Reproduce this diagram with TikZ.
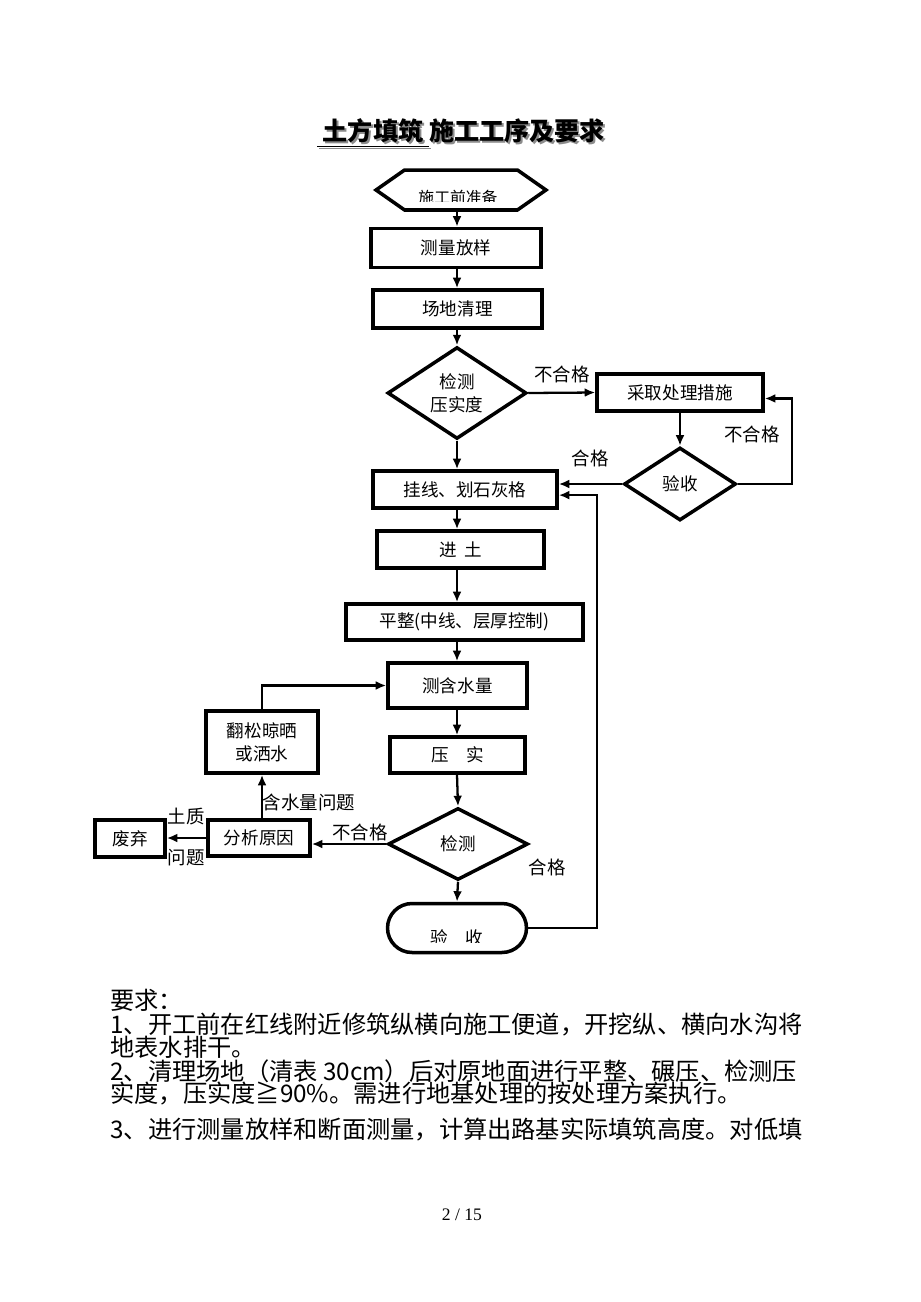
\documentclass[tikz,border=0pt]{standalone}
\usepackage{fontspec}
\setmainfont{Noto Sans CJK SC}
\newfontfamily\pagefont{Liberation Serif}
\usetikzlibrary{shapes.geometric,shapes.symbols,arrows.meta}

\tikzstyle{proc}=[rectangle, draw=black, line width=2pt, inner sep=0pt, font=\fontsize{10}{13}\selectfont, align=center]
\tikzstyle{dec}=[diamond, draw=black, line width=2pt, inner sep=0pt, font=\fontsize{10}{13}\selectfont, align=center]
\tikzstyle{lbl}=[inner sep=0pt, font=\fontsize{10.5}{12}\selectfont]
\tikzstyle{para}=[anchor=west, inner sep=0pt, font=\fontsize{13.8}{16}\selectfont]

\begin{document}
\begin{tikzpicture}[x=0.02cm, y=-0.02cm, >={Latex[length=6pt,width=5pt]},
    flow/.style = {->, line width=1.3pt}]
    \useasboundingbox (0,0) rectangle (920,1302);

    % title with its grey shadow
    \node[inner sep=0pt, font=\fontsize{14.3}{15}\selectfont\bfseries, text=black!45] (titleshadow) at (463,135) {\underline{\ 土方填筑\ }施工工序及要求};
    \node[inner sep=0pt, font=\fontsize{14.3}{15}\selectfont\bfseries] (title) at (461,133) {\underline{\ 土方填筑\ }施工工序及要求};

    \coordinate (spine) at (457,0);
    \coordinate (loopR) at (792,0);
    \coordinate (retR) at (597,0);

    % main column
    \node[signal, signal to=west and east, signal pointer angle=70, draw=black, line width=2pt, minimum width=3.4cm, minimum height=0.8cm, inner sep=0pt] (prep) at (461,190) {};
    \begin{scope}
      \clip (376,170) rectangle (546,201);
      \node[lbl, font=\fontsize{9}{10}\selectfont] (preptext) at (458,197) {施工前准备};
    \end{scope}
    \node[proc, minimum width=3.4cm, minimum height=0.78cm] (meas) at (456,248) {测量放样};
    \node[proc, minimum width=3.38cm, minimum height=0.76cm] (clear) at (457.5,309) {场地清理};
    \node[dec, minimum width=2.78cm, minimum height=1.66cm] (chk) at (457,393) {检测\\压实度};
    \node[proc, minimum width=3.32cm, minimum height=0.74cm] (fix) at (680,392.5) {采取处理措施};
    \node[dec, minimum width=2.24cm, minimum height=1.46cm] (acc) at (680,484) {验收};
    \node[proc, minimum width=3.68cm, minimum height=0.74cm] (hang) at (465,489.5) {挂线、划石灰格};
    \node[proc, minimum width=3.34cm, minimum height=0.74cm] (feed) at (460.5,549.5) {进\ \ 土};
    \node[proc, minimum width=4.74cm, minimum height=0.72cm] (level) at (464.5,622) {平整(中线、层厚控制)};
    \node[proc, minimum width=2.78cm, minimum height=0.9cm] (moist) at (457.5,685.5) {测含水量};
    \node[proc, minimum width=2.7cm, minimum height=0.72cm] (comp) at (457.5,755) {压\quad 实};
    \node[dec, minimum width=2.8cm, minimum height=1.44cm] (chk2) at (458,844) {检测};
    \node[proc, rounded corners=0.49cm, minimum width=2.78cm, minimum height=0.98cm] (done) at (457,928) {};
    \begin{scope}
      \clip (390,910) rectangle (525,942);
      \node[lbl, font=\fontsize{10}{12}\selectfont] (donetext) at (457,938) {验　收};
    \end{scope}

    % left branch
    \node[proc, minimum width=2.04cm, minimum height=0.72cm] (anal) at (259,838) {分析原因};
    \node[proc, minimum width=2.24cm, minimum height=1.24cm] (loose) at (262,742) {翻松晾晒\\或洒水};
    \node[proc, minimum width=1.4cm, minimum height=0.74cm] (waste) at (130,838.5) {废弃};

    \coordinate (fixin) at ([yshift=-3.4pt]fix.east);
    \coordinate (hangin) at ([yshift=-3.2pt]hang.east);

    % connectors
    \draw[flow] (prep.south -| spine) -- (spine |- meas.north);
    \draw[flow] (spine |- meas.south) -- (spine |- clear.north);
    \draw[flow] (spine |- clear.south) -- (chk.north);
    \draw[flow] (chk.east) -- (fix.west);
    \draw[flow] (fix.south) -- (acc.north);
    \draw[flow] (acc.east) -- (acc.east -| loopR) -- (loopR |- fixin) -- (fixin);
    \draw[flow] (acc.west) -- (acc.west -| hang.east);
    \draw[flow] (chk.south) -- (spine |- hang.north);
    \draw[flow] (spine |- hang.south) -- (spine |- feed.north);
    \draw[flow] (spine |- feed.south) -- (spine |- level.north);
    \draw[flow] (spine |- level.south) -- (spine |- moist.north);
    \draw[flow] (spine |- moist.south) -- (spine |- comp.north);
    \draw[flow] (spine |- comp.south) -- (chk2.north);
    \draw[flow] (chk2.south) -- (done.north);
    \draw[flow] (chk2.west) -- (chk2.west -| anal.east);
    \draw[flow] (loose.south |- anal.north) -- (loose.south);
    \draw[flow] (loose.north) |- (moist.west);
    \draw[flow] (anal.west) -- (anal.west -| waste.east);
    \draw[flow] (done.east) -- (done.east -| retR) -- (retR |- hangin) -- (hangin);

    % connector labels
    \node[lbl] (ng1) at (562,374) {不合格};
    \node[lbl] (ng2) at (752,434) {不合格};
    \node[lbl] (ok1) at (590,458) {合格};
    \node[lbl] (ng3) at (360,832) {不合格};
    \node[lbl] (ok2) at (547,867) {合格};
    \node[lbl] (water) at (309,802) {含水量问题};
    \node[lbl] (soil) at (186,816) {土质};
    \node[lbl] (prob) at (186,858) {问题};

    % requirements text
    \node[para] (req) at (110,1000) {要求：};
    \node[para] (req1) at (110,1025) {1、开工前在红线附近修筑纵横向施工便道，开挖纵、横向水沟将};
    \node[para] (req1b) at (110,1047) {地表水排干。};
    \node[para] (req2) at (110,1071) {2、清理场地（清表 30cm）后对原地面进行平整、碾压、检测压};
    \node[para] (req2b) at (110,1094) {实度，压实度≧90\%。需进行地基处理的按处理方案执行。};
    \node[para] (req3) at (110,1130) {3、进行测量放样和断面测量，计算出路基实际填筑高度。对低填};

    \node[inner sep=0pt, font=\pagefont\fontsize{10}{12}\selectfont] (page) at (462,1215) {2 / 15};
\end{tikzpicture}
\end{document}
